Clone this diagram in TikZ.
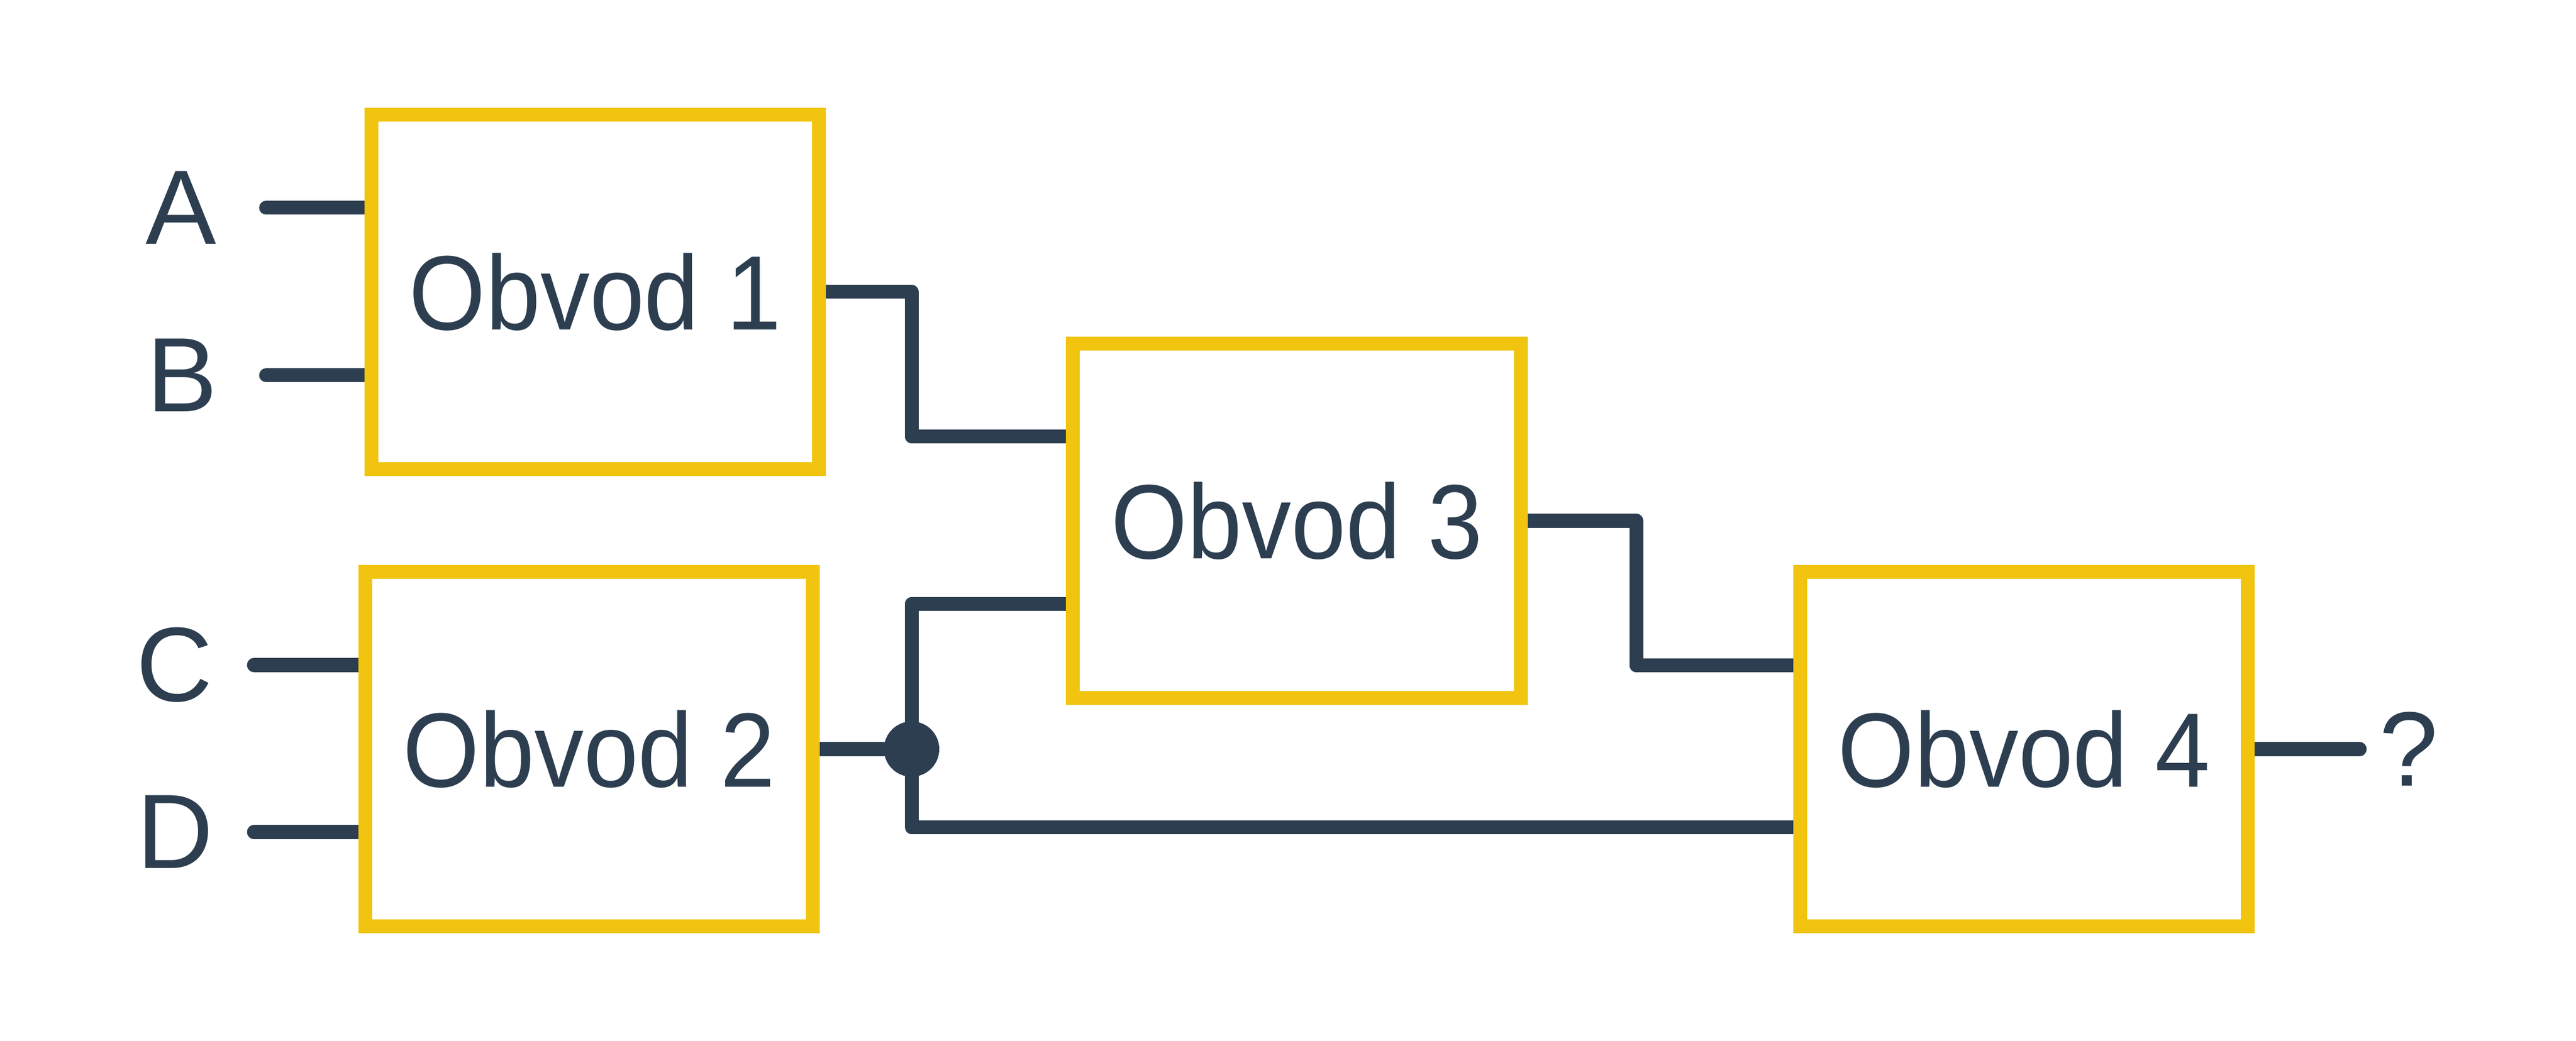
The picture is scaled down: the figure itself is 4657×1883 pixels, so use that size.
\documentclass[tikz,border=0pt]{standalone}
\usepackage{fontspec}
\setmainfont{Liberation Sans}
\newfontfamily\boxfont{Liberation Sans}[FakeStretch=0.93]
\usetikzlibrary{backgrounds}
\definecolor{ink}{HTML}{2C3E50}
\definecolor{sun}{HTML}{F1C40F}
\tikzset{
  circuit/.style={draw=sun, line width=0.25cm, fill=white, minimum width=8.09cm,
    minimum height=6.4cm, text=ink, font=\boxfont\fontsize{54.4}{60}\selectfont},
  lbl/.style={text=ink, font=\fontsize{54.4}{60}\selectfont},
  wire/.style={draw=ink, line width=0.25cm, line cap=round, line join=round},
  joint/.style={circle, fill=ink, minimum size=1cm, inner sep=0pt}
}

\begin{document}
\begin{tikzpicture}[x=0.01cm, y=-0.01cm]
    \useasboundingbox (0,0) rectangle (4657,1883);
    % boxes
    \node[circuit] (obvod1) at (1076,528) {Obvod 1};
    \node[circuit] (obvod2) at (1065,1355) {Obvod 2};
    \node[circuit] (obvod3) at (2344.5,942) {Obvod 3};
    \node[circuit] (obvod4) at (3659,1355) {Obvod 4};
    \node[joint] (J) at (1648,1355) {};
    % inputs and output
    \node[lbl] (A) at (327,376) {A};
    \node[lbl] (B) at (329,679) {B};
    \node[lbl] (C) at (316,1203) {C};
    \node[lbl] (D) at (317,1505) {D};
    \node[lbl] (Q) at (4355,1355) {?};
    \coordinate (a) at (481,376);
    \coordinate (b) at (481,679);
    \coordinate (c) at (459,1203);
    \coordinate (d) at (459,1505);
    \coordinate (out) at (4266,1355);
    \coordinate (k3) at (2958,942);
    \coordinate (in31) at ([yshift=1.52cm]obvod3.west);
    \coordinate (in32) at ([yshift=-1.50cm]obvod3.west);
    \coordinate (in41) at ([yshift=1.51cm]obvod4.west);
    \coordinate (in42) at ([yshift=-1.41cm]obvod4.west);
    \begin{scope}[on background layer]
      \draw[wire] (a) -- (a -| obvod1.west);
      \draw[wire] (b) -- (b -| obvod1.west);
      \draw[wire] (c) -- (c -| obvod2.west);
      \draw[wire] (d) -- (d -| obvod2.west);
      \draw[wire] (obvod1.east) -| (in31 -| J) -- (in31);
      \draw[wire] (obvod2.east) -- (J);
      \draw[wire] (in32) -| (J |- in42) -- (in42);
      \draw[wire] (obvod3.east) -- (k3) |- (in41);
      \draw[wire] (obvod4.east) -- (out);
    \end{scope}
\end{tikzpicture}
\end{document}
